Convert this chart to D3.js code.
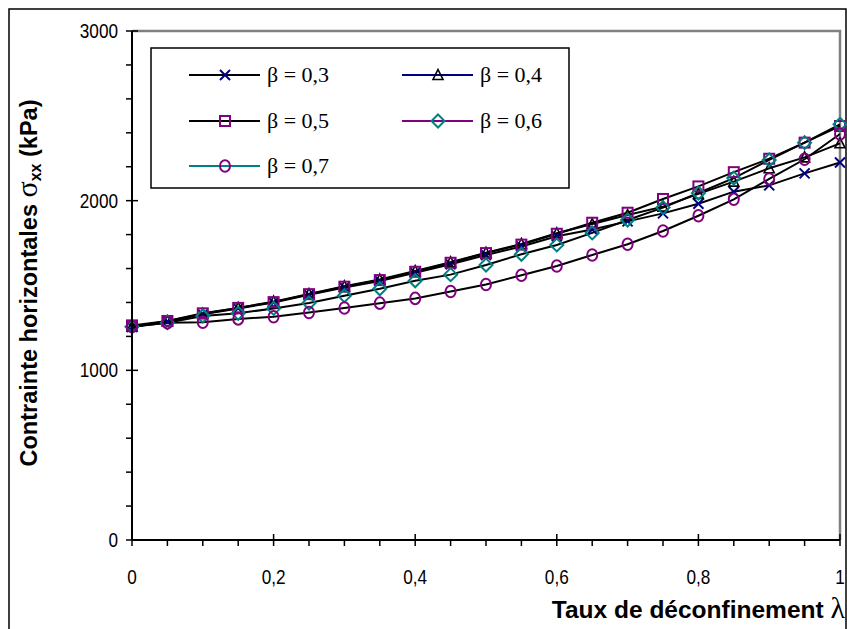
<!DOCTYPE html>
<html><head><meta charset="utf-8">
<script src="https://cdn.jsdelivr.net/npm/d3@7"></script>
<style>body{margin:0;background:#fff}svg{display:block}</style>
</head><body>
<script>
const lambdas = [0,0.05,0.1,0.15,0.2,0.25,0.3,0.35,0.4,0.45,0.5,0.55,0.6,0.65,0.7,0.75,0.8,0.85,0.9,0.95,1];
const beta03 = [1255,1288,1330,1365,1400,1445,1488,1527,1575,1625,1680,1730,1790,1830,1878,1925,1982,2053,2090,2161,2225];
const beta04 = [1258,1290,1333,1368,1405,1450,1495,1535,1585,1637,1693,1745,1808,1862,1915,1965,2040,2112,2191,2255,2338];
const beta05 = [1265,1291,1336,1368,1402,1449,1493,1532,1581,1634,1691,1741,1805,1870,1929,2010,2084,2168,2247,2342,2440];
const beta06 = [1257,1281,1320,1336,1365,1397,1440,1481,1528,1564,1621,1684,1739,1810,1886,1959,2045,2133,2240,2342,2450];
const beta07 = [1258,1280,1283,1303,1316,1341,1367,1396,1424,1465,1506,1560,1615,1680,1743,1821,1911,2008,2128,2244,2393];
const seriesNames = ["β = 0,3","β = 0,4","β = 0,5","β = 0,6","β = 0,7"];
const xTicks = [0,0.2,0.4,0.6,0.8,1];
const xTickLabels = ["0","0,2","0,4","0,6","0,8","1"];
const yTicks = [0,1000,2000,3000];

const W=847,H=629;
const svg=d3.select("body").append("svg").attr("width",W).attr("height",H);
const x=d3.scaleLinear().domain([0,1]).range([132,840]);
const y=d3.scaleLinear().domain([0,3000]).range([540,31]);

svg.append("rect").attr("x",9).attr("y",9).attr("width",837).attr("height",640)
  .attr("fill","none").attr("stroke","#000").attr("stroke-width",1.5);

svg.append("path").attr("d",`M${x(0)},${y(3000)}H${x(1)}V${y(0)}`)
  .attr("fill","none").attr("stroke","#808080").attr("stroke-width",2.5);

const styles=[
  {marker:"x", mcol:"#000080", lcol:"#000"},
  {marker:"tri", mcol:"#000", lcol:"#000080"},
  {marker:"sq", mcol:"#800080", lcol:"#000"},
  {marker:"dia", mcol:"#008080", lcol:"#800080"},
  {marker:"circ", mcol:"#800080", lcol:"#008080"}
];
const data=[beta03,beta04,beta05,beta06,beta07];

function drawMarker(g,type,cx,cy,col){
  if(type==="x"){
    g.append("path").attr("d",`M${cx-5},${cy-5}L${cx+5},${cy+5}M${cx-5},${cy+5}L${cx+5},${cy-5}`)
      .attr("stroke",col).attr("stroke-width",2).attr("fill","none");
  } else if(type==="tri"){
    g.append("path").attr("d",`M${cx},${cy-5.5}L${cx+5},${cy+4.5}L${cx-5},${cy+4.5}Z`)
      .attr("stroke",col).attr("stroke-width",1.6).attr("fill","none");
  } else if(type==="sq"){
    g.append("rect").attr("x",cx-5).attr("y",cy-5).attr("width",10).attr("height",10)
      .attr("stroke",col).attr("stroke-width",2).attr("fill","none");
  } else if(type==="dia"){
    g.append("path").attr("d",`M${cx},${cy-6.5}L${cx+6.5},${cy}L${cx},${cy+6.5}L${cx-6.5},${cy}Z`)
      .attr("stroke",col).attr("stroke-width",2).attr("fill","none");
  } else {
    g.append("ellipse").attr("cx",cx).attr("cy",cy).attr("rx",5).attr("ry",5.8)
      .attr("stroke",col).attr("stroke-width",2).attr("fill","none");
  }
}

const line=d3.line().x((d,i)=>x(lambdas[i])).y(d=>y(d));
const plot=svg.append("g");
data.forEach((vals,k)=>{
  plot.append("path").datum(vals).attr("d",line).attr("fill","none").attr("stroke","#000").attr("stroke-width",2);
});
data.forEach((vals,k)=>{
  const g=plot.append("g");
  vals.forEach((v,i)=>drawMarker(g,styles[k].marker,x(lambdas[i]),y(v),styles[k].mcol));
});

const ax=svg.append("g");
ax.append("line").attr("x1",x(0)).attr("x2",x(0)).attr("y1",y(0)).attr("y2",y(3000)).attr("stroke","#000").attr("stroke-width",2);
ax.append("line").attr("x1",x(0)).attr("x2",x(1)).attr("y1",y(0)).attr("y2",y(0)).attr("stroke","#000").attr("stroke-width",2);
d3.range(0,3001,200).forEach(v=>{
  const major=v%1000===0;
  ax.append("line").attr("x1",x(0)-6).attr("x2",major?x(0)+6:x(0)).attr("y1",y(v)).attr("y2",y(v)).attr("stroke","#000").attr("stroke-width",1.5);
});
d3.range(0,21).forEach(i=>{
  const v=i*0.05, major=i%4===0;
  ax.append("line").attr("x1",x(v)).attr("x2",x(v)).attr("y1",major?y(0)-6:y(0)).attr("y2",y(0)+6).attr("stroke","#000").attr("stroke-width",1.5);
});
yTicks.forEach(v=>{
  ax.append("text").attr("transform",`translate(118,${y(v)+7}) scale(0.86,1)`).attr("text-anchor","end")
    .attr("font-family","Liberation Sans, Arial").attr("font-size",20).text(v);
});
xTicks.forEach((v,i)=>{
  ax.append("text").attr("transform",`translate(${x(v)},584) scale(0.86,1)`).attr("text-anchor","middle")
    .attr("font-family","Liberation Sans, Arial").attr("font-size",20).text(xTickLabels[i]);
});

const yt=svg.append("text").attr("transform","translate(37,283) rotate(-90)").attr("text-anchor","middle")
  .attr("font-family","Liberation Sans, Arial").attr("font-weight","bold").attr("font-size",23.5);
yt.append("tspan").text("Contrainte horizontales ");
yt.append("tspan").attr("font-family","Liberation Serif, Times New Roman").attr("font-weight","normal").attr("font-size",30).text("σ");
yt.append("tspan").attr("font-size",16).attr("dy",4).text("xx");
yt.append("tspan").attr("dy",-4).text(" (kPa)");

const xt=svg.append("text").attr("x",845).attr("y",618).attr("text-anchor","end")
  .attr("font-family","Liberation Sans, Arial").attr("font-weight","bold").attr("font-size",24.5);
xt.append("tspan").text("Taux de déconfinement ");
xt.append("tspan").attr("font-family","Liberation Serif, Times New Roman").attr("font-weight","normal").attr("font-size",30).text("λ");

const lg=svg.append("g");
lg.append("rect").attr("x",151).attr("y",48).attr("width",418).attr("height",140).attr("fill","#fff").attr("stroke","#000").attr("stroke-width",1.5);
const pos=[[189,75],[402,75],[189,121],[402,121],[189,166]];
seriesNames.forEach((n,k)=>{
  const [lx,ly]=pos[k];
  lg.append("line").attr("x1",lx).attr("x2",lx+71).attr("y1",ly).attr("y2",ly).attr("stroke",styles[k].lcol).attr("stroke-width",1.8);
  drawMarker(lg,styles[k].marker,lx+36,ly,styles[k].mcol);
  lg.append("text").attr("x",lx+78).attr("y",ly+7).attr("font-family","Liberation Serif, Times New Roman").attr("font-size",22).text(n);
});
</script>
</body></html>
